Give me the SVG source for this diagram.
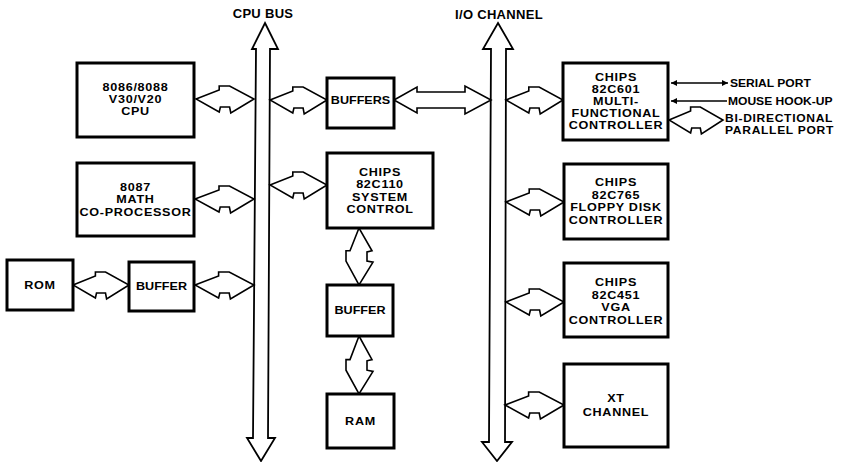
<svg xmlns="http://www.w3.org/2000/svg" width="845" height="462" viewBox="0 0 845 462">
<style>
.box{fill:#fff;stroke:#000;stroke-width:3}
.arr{fill:#fff;stroke:#000;stroke-width:1.6;stroke-linejoin:miter}
.bus{fill:#fff;stroke:#000;stroke-width:1.8;stroke-linejoin:miter}
.ln{fill:none;stroke:#000;stroke-width:1.3}
text{font-family:"Liberation Sans",Arial,sans-serif;font-weight:bold;fill:#000}
.t{font-size:10.5px;text-anchor:middle;letter-spacing:0.6px}
.lbl{font-size:10.5px}
.bl{font-size:13px;text-anchor:middle;letter-spacing:0.3px}
</style>
<defs>
<marker id="ah" viewBox="0 0 10 10" refX="10" refY="5" markerWidth="9" markerHeight="6" markerUnits="userSpaceOnUse" orient="auto-start-reverse">
<path d="M0,0 L10,5 L0,10 Z" fill="#000"/>
</marker>
</defs>
<rect width="845" height="462" fill="#fff"/>

<g id="connectors">
<path id="cpu-bus" class="bus" d="M265,23 L278,49 L270,49 L268,438 L275,438 L261,461 L247,438 L253,438 L256,49 L252,49 Z"/>
<path id="io-bus" class="bus" d="M498,23 L513,49 L506,49 L505,442 L512,442 L497,461 L482,442 L489,442 L491,49 L483,49 Z"/>
<path class="arr" d="M196,99 L219.2,90 L219.2,86 L229.6,86 L254,99 L230.8,113 L229.6,107 L220.4,107 L219.2,112 Z"/>
<path class="arr" d="M270,100 L292.8,91 L292.8,87 L303.1,87 L327,100 L304.2,114 L303.1,108 L293.9,108 L292.8,113 Z"/>
<path class="arr" d="M394,100 L417,87 L417,92 L465,92 L465,86 L491,100 L465,114 L465,108 L417,108 L417,113 Z"/>
<path class="arr" d="M506,100 L528.8,91 L528.8,87 L539.1,87 L563,100 L540.2,114 L539.1,108 L529.9,108 L528.8,113 Z"/>
<path class="arr" d="M195,199 L219,190 L219,186 L229.4,186 L254,199 L230.6,213 L229.4,207 L220.2,207 L219,212 Z"/>
<path class="arr" d="M270,185 L292.8,176 L292.8,172 L303.1,172 L327,185 L304.2,199 L303.1,193 L293.9,193 L292.8,198 Z"/>
<path class="arr" d="M73,285 L95.4,276 L95.4,272 L105.5,272 L129,285 L106.6,299 L105.5,293 L96.5,293 L95.4,298 Z"/>
<path class="arr" d="M195,285 L218.6,276 L218.6,272 L229.2,272 L254,285 L230.4,299 L229.2,293 L219.8,293 L218.6,298 Z"/>
<path class="arr" d="M506,202 L529.2,193 L529.2,189 L539.6,189 L564,202 L540.8,216 L539.6,210 L530.4,210 L529.2,215 Z"/>
<path class="arr" d="M506,302 L529.2,293 L529.2,289 L539.6,289 L564,302 L540.8,316 L539.6,310 L530.4,310 L529.2,315 Z"/>
<path class="arr" d="M505,405 L528.6,396 L528.6,392 L539.2,392 L564,405 L540.4,419 L539.2,413 L529.8,413 L528.6,418 Z"/>
<path class="arr" d="M669,120 L690.6,111 L690.6,107 L700.3,107 L723,120 L701.4,134 L700.3,128 L691.7,128 L690.6,133 Z"/>
<path class="arr" d="M359,228 L350,250.8 L346,250.8 L346,261.1 L359,285 L373,262.2 L367,261.1 L367,251.9 L372,250.8 Z"/>
<path class="arr" d="M359,336 L350,359.6 L346,359.6 L346,370.2 L359,394 L373,371.4 L367,370.2 L367,360.8 L372,359.6 Z"/>
<line class="ln" x1="671" y1="83" x2="728" y2="83" marker-start="url(#ah)" marker-end="url(#ah)"/>
<line class="ln" x1="671" y1="101" x2="727" y2="101" marker-start="url(#ah)"/>
</g>

<g id="cpu-bus-label"><text class="bl" x="263" y="17.7">CPU BUS</text></g>
<g id="io-channel-label"><text class="bl" x="499" y="18.7">I/O CHANNEL</text></g>

<g id="cpu">
<rect class="box" x="77" y="63" width="117" height="74"/>
<g transform="translate(135.5 0) scale(1.2 1)">
<text class="t" x="0" y="90.8">8086/8088</text>
<text class="t" x="0" y="102.8">V30/V20</text>
<text class="t" x="0" y="114.8">CPU</text>
</g>
</g>
<g id="math">
<rect class="box" x="77" y="163" width="117" height="73"/>
<g transform="translate(135.5 0) scale(1.2 1)">
<text class="t" x="0" y="190.8">8087</text>
<text class="t" x="0" y="203.3">MATH</text>
<text class="t" x="0" y="215.8">CO-PROCESSOR</text>
</g>
</g>
<g id="rom">
<rect class="box" x="7" y="260" width="66" height="50"/>
<g transform="translate(40 0) scale(1.2 1)"><text class="t" x="0" y="288.8">ROM</text></g>
</g>
<g id="buffer-left">
<rect class="box" x="129" y="262" width="65" height="49"/>
<g transform="translate(161.5 0) scale(1.2 1)"><text class="t" x="0" y="289.8" style="letter-spacing:0">BUFFER</text></g>
</g>
<g id="buffers">
<rect class="box" x="327" y="78" width="67" height="50"/>
<g transform="translate(360.5 0) scale(1.2 1)"><text class="t" x="0" y="104.3" style="letter-spacing:0">BUFFERS</text></g>
</g>
<g id="system-control">
<rect class="box" x="327" y="153" width="106" height="75"/>
<g transform="translate(380 0) scale(1.2 1)">
<text class="t" x="0" y="176.3">CHIPS</text>
<text class="t" x="0" y="188.3">82C110</text>
<text class="t" x="0" y="200.8">SYSTEM</text>
<text class="t" x="0" y="213.3">CONTROL</text>
</g>
</g>
<g id="buffer-mid">
<rect class="box" x="327" y="285" width="66" height="51"/>
<g transform="translate(360 0) scale(1.2 1)"><text class="t" x="0" y="313.8" style="letter-spacing:0">BUFFER</text></g>
</g>
<g id="ram">
<rect class="box" x="327" y="394" width="67" height="54"/>
<g transform="translate(360.5 0) scale(1.2 1)"><text class="t" x="0" y="424.8">RAM</text></g>
</g>
<g id="multi-functional">
<rect class="box" x="563" y="63" width="105" height="77"/>
<g transform="translate(616 0) scale(1.2 1)">
<text class="t" x="0" y="80.8">CHIPS</text>
<text class="t" x="0" y="92.8">82C601</text>
<text class="t" x="0" y="104.8">MULTI-</text>
<text class="t" x="0" y="116.8">FUNCTIONAL</text>
<text class="t" x="0" y="128.8">CONTROLLER</text>
</g>
</g>
<g id="floppy">
<rect class="box" x="564" y="164" width="104" height="75"/>
<g transform="translate(616 0) scale(1.2 1)">
<text class="t" x="0" y="186.3">CHIPS</text>
<text class="t" x="0" y="198.8">82C765</text>
<text class="t" x="0" y="211.3">FLOPPY DISK</text>
<text class="t" x="0" y="223.8">CONTROLLER</text>
</g>
</g>
<g id="vga">
<rect class="box" x="564" y="263" width="104" height="74"/>
<g transform="translate(616 0) scale(1.2 1)">
<text class="t" x="0" y="285.8">CHIPS</text>
<text class="t" x="0" y="298.8">82C451</text>
<text class="t" x="0" y="311.3">VGA</text>
<text class="t" x="0" y="324.3">CONTROLLER</text>
</g>
</g>
<g id="xt-channel">
<rect class="box" x="564" y="364" width="104" height="83"/>
<g transform="translate(616 0) scale(1.2 1)">
<text class="t" x="0" y="401.8">XT</text>
<text class="t" x="0" y="415.8">CHANNEL</text>
</g>
</g>
<g id="port-labels" transform="translate(725 0) scale(1.15 1)">
<text class="lbl" x="4.3" y="86.8">SERIAL PORT</text>
<text class="lbl" x="2.6" y="104.8">MOUSE HOOK-UP</text>
<text class="lbl" x="0" y="121.8" style="letter-spacing:0.6px">BI-DIRECTIONAL</text>
<text class="lbl" x="0" y="133.8" style="letter-spacing:0.6px">PARALLEL PORT</text>
</g>
</svg>
